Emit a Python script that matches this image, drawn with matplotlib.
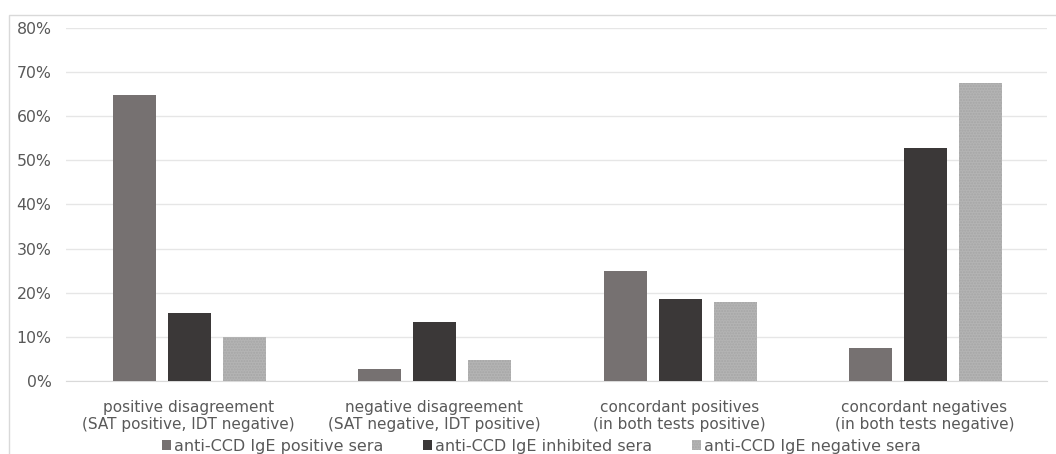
import matplotlib
matplotlib.use("Agg")
import matplotlib.pyplot as plt
import numpy as np
from matplotlib.patches import Rectangle

categories = ["positive disagreement\n(SAT positive, IDT negative)",
              "negative disagreement\n(SAT negative, IDT positive)",
              "concordant positives\n(in both tests positive)",
              "concordant negatives\n(in both tests negative)"]
series_names = ["anti-CCD IgE positive sera",
                "anti-CCD IgE inhibited sera",
                "anti-CCD IgE negative sera"]
positive_sera = [64.8, 2.7, 25.0, 7.5]
inhibited_sera = [15.4, 13.4, 18.6, 52.7]
negative_sera = [10.0, 4.8, 17.8, 67.6]
yticks = [0, 10, 20, 30, 40, 50, 60, 70, 80]

plt.rcParams['font.family'] = ['DejaVu Sans']
fig = plt.figure(figsize=(10.56, 4.54), dpi=100)
W, H = 1056, 454
ax = fig.add_axes([66 / W, (H - 381) / H, (1047 - 66) / W, (381 - 28) / H])

fig.patches.append(Rectangle((9 / W, -0.1), 1.2, (H - 15) / H + 0.1, transform=fig.transFigure,
                             fill=False, edgecolor='#d9d9d9', linewidth=1))

x = np.arange(len(categories))
bw = 43 / 245
step = 55 / 245
cols = ['#767171', '#3b3838', '#b4b4b4']
data = [positive_sera, inhibited_sera, negative_sera]
for i, (vals, c, name) in enumerate(zip(data, cols, series_names)):
    kw = {}
    if i == 2:
        kw = dict(hatch='......', edgecolor='#a6a6a6', linewidth=0)
    ax.bar(x + (i - 1) * step + 1 / 245, vals, bw, color=c, label=name, zorder=3, **kw)

ax.set_xlim(-0.5, 3.5)
ax.set_ylim(0, 80)
ax.set_yticks(yticks)
ax.set_yticklabels([f"{v}%" for v in yticks], fontsize=11.3, color='#595959')
ax.set_xticks(x)
ax.set_xticklabels(categories, fontsize=11, color='#595959', linespacing=1.1)
ax.tick_params(axis='both', length=0)
ax.tick_params(axis='y', pad=10.5)
ax.tick_params(axis='x', pad=14)
ax.grid(axis='y', color='#e6e6e6', linewidth=1, zorder=0)
for s in ['top', 'right', 'left']:
    ax.spines[s].set_visible(False)
ax.spines['bottom'].set_color('#d9d9d9')

leg = fig.legend(loc='center', bbox_to_anchor=(0.513, (H - 446) / H), ncol=3, frameon=False,
                 fontsize=11.5, handlelength=0.55, handleheight=0.55, handletextpad=0.2,
                 columnspacing=2.5, labelcolor='#595959', borderpad=0)

fig.savefig("out.png", dpi=100)
